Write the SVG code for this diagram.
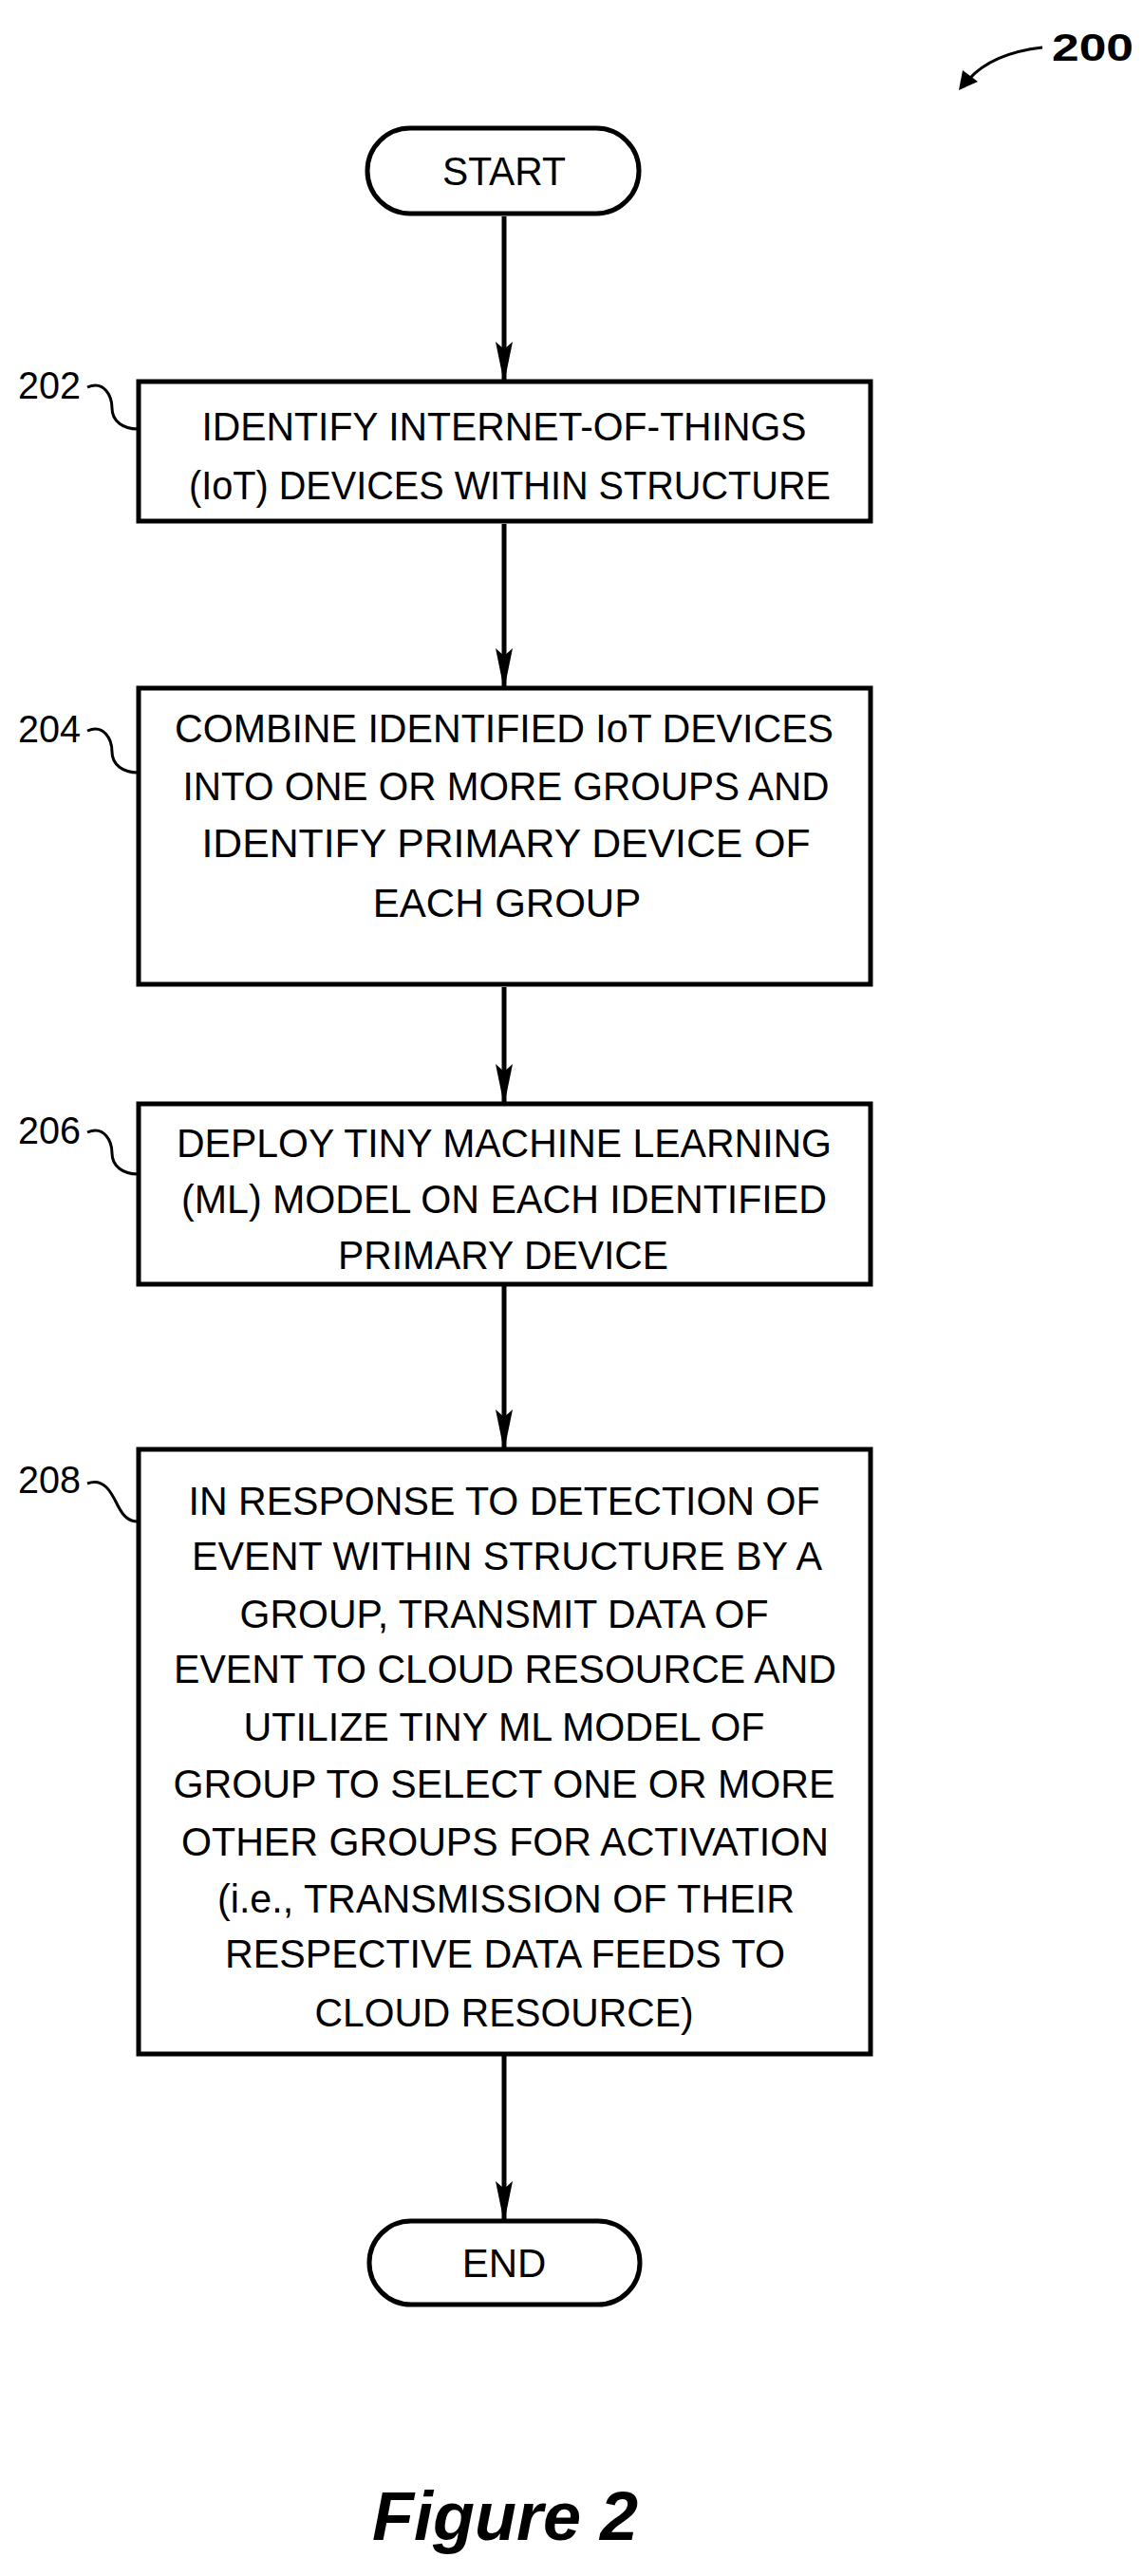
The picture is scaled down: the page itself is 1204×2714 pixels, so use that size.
<svg xmlns="http://www.w3.org/2000/svg" width="1204" height="2714" viewBox="0 0 1204 2714">
<style>
.b{fill:#fff;stroke:#000;stroke-width:5}
.t{font-family:"Liberation Sans",Arial,sans-serif;font-size:42px;text-anchor:middle;fill:#000}
.n{font-family:"Liberation Sans",Arial,sans-serif;font-size:40px;fill:#000}
.c{fill:none;stroke:#000;stroke-width:3}
.e{stroke:#000;stroke-width:5;fill:none;marker-end:url(#ah)}
</style>
<defs>
<marker id="ah" markerUnits="userSpaceOnUse" markerWidth="44" markerHeight="20" refX="42" refY="10" orient="auto" viewBox="0 0 44 20"><path d="M0,1 L44,10 L0,19 L8,10 Z" fill="#000"/></marker>
</defs>
<g id="connectors">
<line class="e" x1="531" y1="228" x2="531" y2="402"/>
<line class="e" x1="531" y1="552" x2="531" y2="725"/>
<line class="e" x1="531" y1="1040" x2="531" y2="1163"/>
<line class="e" x1="531" y1="1355" x2="531" y2="1527"/>
<line class="e" x1="531" y1="2166" x2="531" y2="2340"/>
</g>
<g id="ref200">
<text class="n" x="1108" y="64" font-weight="bold" font-size="42" textLength="86" lengthAdjust="spacingAndGlyphs">200</text>
<path d="M1098,50 Q1045,56 1020,84" class="c" stroke-width="4"/>
<path d="M1010,95 L1014,74 L1030,86 Z" fill="#000"/>
</g>
<g id="start">
<rect class="b" x="387" y="135" width="286" height="90" rx="45"/>
<text class="t" x="531" y="195" textLength="130" lengthAdjust="spacingAndGlyphs">START</text>
</g>
<g id="n202">
<rect class="b" x="146" y="402" width="771" height="147"/>
<text class="t" x="531" y="464" textLength="637" lengthAdjust="spacingAndGlyphs">IDENTIFY INTERNET-OF-THINGS</text>
<text class="t" x="537" y="526" textLength="676" lengthAdjust="spacingAndGlyphs">(IoT) DEVICES WITHIN STRUCTURE</text>
<text class="n" x="19" y="420" textLength="66" lengthAdjust="spacingAndGlyphs">202</text>
<path class="c" d="M92,408 C110,400 118,418 118,430 C118,444 130,452 145,452"/>
</g>
<g id="n204">
<rect class="b" x="146" y="725" width="771" height="312"/>
<text class="t" x="531" y="782" textLength="694" lengthAdjust="spacingAndGlyphs">COMBINE IDENTIFIED IoT DEVICES</text>
<text class="t" x="533" y="843" textLength="681" lengthAdjust="spacingAndGlyphs">INTO ONE OR MORE GROUPS AND</text>
<text class="t" x="533" y="903" textLength="641" lengthAdjust="spacingAndGlyphs">IDENTIFY PRIMARY DEVICE OF</text>
<text class="t" x="534" y="966">EACH GROUP</text>
<text class="n" x="19" y="782" textLength="66" lengthAdjust="spacingAndGlyphs">204</text>
<path class="c" d="M92,770 C110,762 118,780 118,792 C118,806 130,814 145,814"/>
</g>
<g id="n206">
<rect class="b" x="146" y="1163" width="771" height="190"/>
<text class="t" x="531" y="1219" textLength="690" lengthAdjust="spacingAndGlyphs">DEPLOY TINY MACHINE LEARNING</text>
<text class="t" x="531" y="1278" textLength="680" lengthAdjust="spacingAndGlyphs">(ML) MODEL ON EACH IDENTIFIED</text>
<text class="t" x="530" y="1337" textLength="348" lengthAdjust="spacingAndGlyphs">PRIMARY DEVICE</text>
<text class="n" x="19" y="1205" textLength="66" lengthAdjust="spacingAndGlyphs">206</text>
<path class="c" d="M92,1193 C110,1185 118,1203 118,1215 C118,1229 130,1237 145,1237"/>
</g>
<g id="n208">
<rect class="b" x="146" y="1527" width="771" height="637"/>
<g class="t" font-size="41">
<text x="531" y="1596" textLength="665" lengthAdjust="spacingAndGlyphs">IN RESPONSE TO DETECTION OF</text>
<text x="534" y="1654" textLength="664" lengthAdjust="spacingAndGlyphs">EVENT WITHIN STRUCTURE BY A</text>
<text x="531" y="1715" textLength="557" lengthAdjust="spacingAndGlyphs">GROUP, TRANSMIT DATA OF</text>
<text x="532" y="1773" textLength="698" lengthAdjust="spacingAndGlyphs">EVENT TO CLOUD RESOURCE AND</text>
<text x="531" y="1834" textLength="549" lengthAdjust="spacingAndGlyphs">UTILIZE TINY ML MODEL OF</text>
<text x="531" y="1894" textLength="697" lengthAdjust="spacingAndGlyphs">GROUP TO SELECT ONE OR MORE</text>
<text x="532" y="1955" textLength="682" lengthAdjust="spacingAndGlyphs">OTHER GROUPS FOR ACTIVATION</text>
<text x="533" y="2015" textLength="608" lengthAdjust="spacingAndGlyphs">(i.e., TRANSMISSION OF THEIR</text>
<text x="532" y="2073" textLength="590" lengthAdjust="spacingAndGlyphs">RESPECTIVE DATA FEEDS TO</text>
<text x="531" y="2135" textLength="399" lengthAdjust="spacingAndGlyphs">CLOUD RESOURCE)</text>
</g>
<text class="n" x="19" y="1573" textLength="66" lengthAdjust="spacingAndGlyphs">208</text>
<path class="c" d="M92,1563 C110,1556 118,1574 124,1586 C130,1598 136,1603 145,1603"/>
</g>
<g id="end">
<rect class="b" x="389" y="2340" width="285" height="88" rx="44"/>
<text class="t" x="531" y="2399" font-size="41">END</text>
</g>
<text x="532" y="2676" font-family="Liberation Sans,Arial,sans-serif" font-size="72" font-weight="bold" font-style="italic" text-anchor="middle">Figure 2</text>
</svg>
